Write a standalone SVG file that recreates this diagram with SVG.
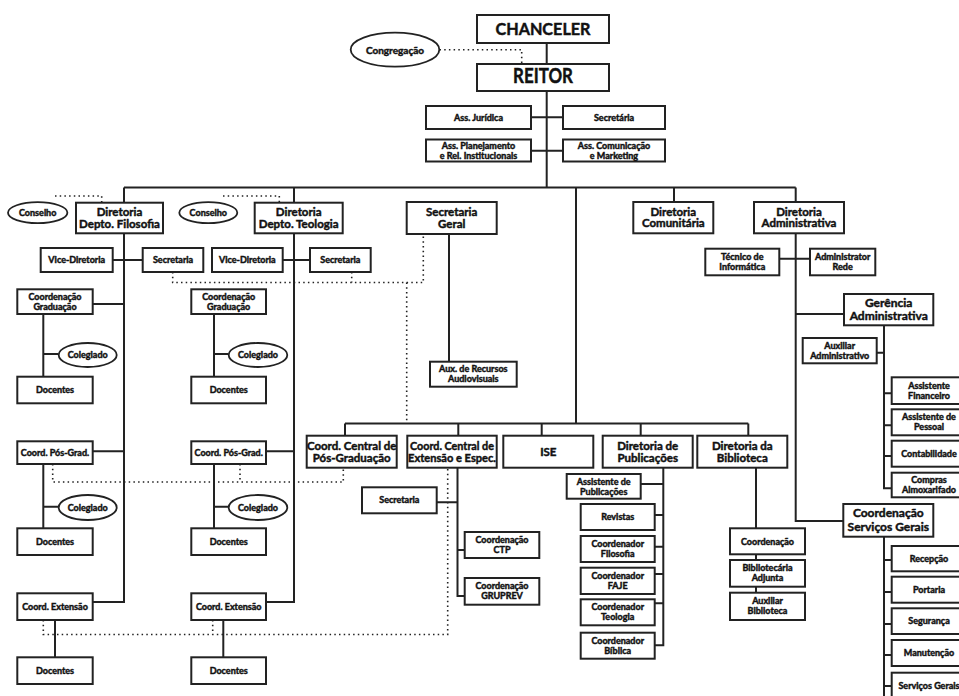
<svg xmlns="http://www.w3.org/2000/svg" width="959" height="696" viewBox="0 0 959 696">
<style>
.b{fill:#fff;stroke:#222;stroke-width:2}
.e{fill:#fff;stroke:#222;stroke-width:1.8}
.c{fill:none;stroke:#222;stroke-width:2}
.d{fill:none;stroke:#222;stroke-width:1.6;stroke-dasharray:1.5 3.2}
text{font-family:Lato,"Liberation Sans",sans-serif;font-weight:bold;fill:#111;stroke:#111;stroke-width:0.45px;text-anchor:middle}
.s9{font-size:9px}
.s10{font-size:10px}
.s11{font-size:11.5px}
.s12{font-size:12px}
</style>
<rect width="959" height="696" fill="#fff"/>
<g id="connectors">
<path class="c" d="M546.7 43V91M546.7 91V187.5M531 117.3H563M531 150.7H563"/>
<path class="c" d="M124 187.5H795.7M124 187.5V602H92.7M294 187.5V602H266M674 187.5V202M795.7 187.5V521H843.3M576 187.5V423.5"/>
<path class="c" d="M112.7 260H142.7M282.7 260H310M92.7 304H124M92.7 451.3H124M266 451.3H294"/>
<path class="c" d="M43.3 314V376.7M43.3 354H58.7M214 314V376.7M214 354H228.7M43.3 464V528.3M43.3 506.7H58.7M214 464V528.3M214 506.7H228.7M55 620V657.3M223.3 620V657.3"/>
<path class="c" d="M449 234V361.7"/>
<path class="c" d="M345 423.5H748.3M345 423.5V435.7M458.3 423.5V435.7M541.7 423.5V435.7M640.7 423.5V435.7M748.3 423.5V435.7"/>
<path class="c" d="M457.5 467.7V596H464.7M436.7 502.3H457.5M457.5 550H464.7"/>
<path class="c" d="M663.3 467.7V645.3H654.7M640.7 484H663.3M654.7 515H663.3M654.7 546.7H663.3M654.7 574H663.3M654.7 603.3H663.3"/>
<path class="c" d="M756 467.7V592.7"/>
<path class="c" d="M779.3 258.7H810M795.7 314H844"/>
<path class="c" d="M884 325.3V488.3H891.7M876.7 352.7H884M884 393.3H891.7M884 425.3H891.7M884 456H891.7"/>
<path class="c" d="M884 536.7V696M884 560H891.7M884 592H891.7M884 624H891.7M884 655H891.7M884 686H891.7"/>
<path class="d" d="M439.5 49.7H521.7V63"/>
<path class="d" d="M55 196H101.7V202.7M223 196H279.3V202.7"/>
<path class="d" d="M172.7 272V282.5H423.3V234M351.7 272V282.5M406.7 282.5V423"/>
<path class="d" d="M52.7 464V482H343.3V467.7M240 464V482"/>
<path class="d" d="M43.3 620V634.5H447.7V467.7M212.7 620V634.5"/>
</g>
<g id="chanceler"><rect class="b" x="477" y="15" width="132" height="28"/><text x="543" y="35" style="font-size:17px" textLength="95" lengthAdjust="spacingAndGlyphs">CHANCELER</text></g>
<g id="congregacao"><ellipse class="e" cx="395" cy="49.7" rx="44.3" ry="17"/><text class="s10" x="395" y="53.5">Congregação</text></g>
<g id="reitor"><rect class="b" x="477" y="64" width="132" height="27"/><text x="543" y="83.3" style="font-size:21px" textLength="60" lengthAdjust="spacingAndGlyphs">REITOR</text></g>
<g id="ass-juridica"><rect class="b" x="426" y="106" width="105" height="23"/><text class="s9" x="478.5" y="120.5">Ass. Jurídica</text></g>
<g id="secretaria-reitor"><rect class="b" x="563" y="106" width="102" height="23"/><text class="s9" x="614" y="120.5">Secretária</text></g>
<g id="ass-planejamento"><rect class="b" x="426" y="139.5" width="105" height="22"/><text class="s9" x="478.5" y="148.8"><tspan x="478.5">Ass. Planejamento</tspan><tspan x="478.5" dy="10">e Rel. Institucionais</tspan></text></g>
<g id="ass-comunicacao"><rect class="b" x="563" y="139.5" width="102" height="22"/><text class="s9" x="614" y="148.8"><tspan x="614">Ass. Comunicação</tspan><tspan x="614" dy="10">e Marketing</tspan></text></g>
<g id="conselho-fil"><ellipse class="e" cx="37.7" cy="212.7" rx="29.7" ry="10.5"/><text class="s9" x="37.7" y="216">Conselho</text></g>
<g id="dir-filosofia"><rect class="b" x="76" y="202.7" width="87" height="30.6"/><text class="s11" x="119.5" y="216"><tspan x="119.5">Diretoria</tspan><tspan x="119.5" dy="11.8">Depto. Filosofia</tspan></text></g>
<g id="conselho-teo"><ellipse class="e" cx="208.3" cy="212.7" rx="29" ry="10.5"/><text class="s9" x="208.3" y="216">Conselho</text></g>
<g id="dir-teologia"><rect class="b" x="254.7" y="202.7" width="88" height="30.6"/><text class="s11" x="298.7" y="216"><tspan x="298.7">Diretoria</tspan><tspan x="298.7" dy="11.8">Depto. Teologia</tspan></text></g>
<g id="secretaria-geral"><rect class="b" x="406.7" y="202" width="90" height="32"/><text class="s11" x="451.7" y="215.8"><tspan x="451.7">Secretaria</tspan><tspan x="451.7" dy="12">Geral</tspan></text></g>
<g id="dir-comunitaria"><rect class="b" x="633.3" y="202" width="80" height="31.3"/><text class="s11" x="673.3" y="215.6"><tspan x="673.3">Diretoria</tspan><tspan x="673.3" dy="11.8">Comunitária</tspan></text></g>
<g id="dir-administrativa"><rect class="b" x="754" y="202" width="90" height="31.3"/><text class="s11" x="799" y="215.6"><tspan x="799">Diretoria</tspan><tspan x="799" dy="11.8">Administrativa</tspan></text></g>
<g id="vice-fil"><rect class="b" x="40.7" y="248" width="72" height="24"/><text class="s9" x="76.7" y="263.2">Vice-Diretoria</text></g>
<g id="secretaria-fil"><rect class="b" x="142.7" y="248" width="60.6" height="24"/><text class="s9" x="173" y="263.2">Secretaria</text></g>
<g id="vice-teo"><rect class="b" x="212" y="248" width="70.7" height="24"/><text class="s9" x="247.3" y="263.2">Vice-Diretoria</text></g>
<g id="secretaria-teo"><rect class="b" x="310" y="248" width="60.7" height="24"/><text class="s9" x="340.3" y="263.2">Secretaria</text></g>
<g id="tecnico-info"><rect class="b" x="705.3" y="248.7" width="74" height="26.6"/><text class="s9" x="742.3" y="260.2"><tspan x="742.3">Técnico de</tspan><tspan x="742.3" dy="10">Informática</tspan></text></g>
<g id="admin-rede"><rect class="b" x="810" y="248.7" width="65.3" height="26.6"/><text class="s9" x="842.7" y="260.2"><tspan x="842.7">Administrator</tspan><tspan x="842.7" dy="10">Rede</tspan></text></g>
<g id="gerencia-adm"><rect class="b" x="844" y="294" width="89.3" height="31.3"/><text class="s12" x="888.7" y="306.8"><tspan x="888.7">Gerência</tspan><tspan x="888.7" dy="13.6">Administrativa</tspan></text></g>
<g id="aux-adm"><rect class="b" x="802.7" y="338" width="74" height="25.3"/><text class="s9" x="839.7" y="349"><tspan x="839.7">Auxiliar</tspan><tspan x="839.7" dy="10">Administrativo</tspan></text></g>
<g id="coord-grad-fil"><rect class="b" x="17.3" y="289.3" width="75.4" height="24.7"/><text class="s9" x="55" y="300"><tspan x="55">Coordenação</tspan><tspan x="55" dy="10">Graduação</tspan></text></g>
<g id="coord-grad-teo"><rect class="b" x="191.3" y="289.3" width="74.7" height="24.7"/><text class="s9" x="228.7" y="300"><tspan x="228.7">Coordenação</tspan><tspan x="228.7" dy="10">Graduação</tspan></text></g>
<g id="colegiado-1"><ellipse class="e" cx="87.7" cy="355" rx="29" ry="12"/><text class="s9" x="87.7" y="358.3">Colegiado</text></g>
<g id="colegiado-2"><ellipse class="e" cx="258" cy="355" rx="29.3" ry="12"/><text class="s9" x="258" y="358.3">Colegiado</text></g>
<g id="docentes-1"><rect class="b" x="17.3" y="376.7" width="75.4" height="26.6"/><text class="s9" x="55" y="393.2">Docentes</text></g>
<g id="docentes-2"><rect class="b" x="191.3" y="376.7" width="74.7" height="26.6"/><text class="s9" x="228.7" y="393.2">Docentes</text></g>
<g id="aux-recursos"><rect class="b" x="430" y="361.7" width="86.7" height="25"/><text class="s9" x="473.3" y="372.2"><tspan x="473.3">Aux. de Recursos</tspan><tspan x="473.3" dy="10">Audiovisuais</tspan></text></g>
<g id="coord-pos-fil"><rect class="b" x="17.3" y="441.3" width="75.4" height="22.7"/><text class="s9" x="55" y="455.8">Coord. Pós-Grad.</text></g>
<g id="coord-pos-teo"><rect class="b" x="191.3" y="441.3" width="74.7" height="22.7"/><text class="s9" x="228.7" y="455.8">Coord. Pós-Grad.</text></g>
<g id="colegiado-3"><ellipse class="e" cx="87.7" cy="507.5" rx="29" ry="12.5"/><text class="s9" x="87.7" y="510.8">Colegiado</text></g>
<g id="colegiado-4"><ellipse class="e" cx="258" cy="507.5" rx="29.3" ry="12.5"/><text class="s9" x="258" y="510.8">Colegiado</text></g>
<g id="docentes-3"><rect class="b" x="17.3" y="528.3" width="75.4" height="26.7"/><text class="s9" x="55" y="544.8">Docentes</text></g>
<g id="docentes-4"><rect class="b" x="191.3" y="528.3" width="74.7" height="26.7"/><text class="s9" x="228.7" y="544.8">Docentes</text></g>
<g id="coord-ext-fil"><rect class="b" x="17.3" y="593.3" width="75.4" height="26.7"/><text class="s9" x="55" y="609.8">Coord. Extensão</text></g>
<g id="coord-ext-teo"><rect class="b" x="191.3" y="593.3" width="74.7" height="26.7"/><text class="s9" x="228.7" y="609.8">Coord. Extensão</text></g>
<g id="docentes-5"><rect class="b" x="17.3" y="657.3" width="75.4" height="26.7"/><text class="s9" x="55" y="673.8">Docentes</text></g>
<g id="docentes-6"><rect class="b" x="191.3" y="657.3" width="74.7" height="26.7"/><text class="s9" x="228.7" y="673.8">Docentes</text></g>
<g id="coord-central-pos"><rect class="b" x="306.7" y="435.7" width="90" height="32"/><text class="s11" x="351.7" y="449.6"><tspan x="351.7">Coord. Central de</tspan><tspan x="351.7" dy="12">Pós-Graduação</tspan></text></g>
<g id="coord-central-ext"><rect class="b" x="407.3" y="435.7" width="89.4" height="32"/><text class="s11" x="452" y="449.6"><tspan x="452" textLength="84" lengthAdjust="spacingAndGlyphs">Coord. Central de</tspan><tspan x="452" dy="12" textLength="88" lengthAdjust="spacingAndGlyphs">Extensão e Espec.</tspan></text></g>
<g id="ise"><rect class="b" x="503.3" y="435.7" width="90" height="32"/><text class="s11" x="548.3" y="455.8">ISE</text></g>
<g id="dir-publicacoes"><rect class="b" x="602.7" y="435.7" width="90" height="32"/><text class="s11" x="647.7" y="449.6"><tspan x="647.7">Diretoria de</tspan><tspan x="647.7" dy="12">Publicações</tspan></text></g>
<g id="dir-biblioteca"><rect class="b" x="697.3" y="435.7" width="90" height="32"/><text class="s11" x="742.3" y="449.6"><tspan x="742.3">Diretoria da</tspan><tspan x="742.3" dy="12">Biblioteca</tspan></text></g>
<g id="secretaria-ext"><rect class="b" x="362" y="487.3" width="74.7" height="26"/><text class="s9" x="399.3" y="503.4">Secretaria</text></g>
<g id="coord-ctp"><rect class="b" x="464.7" y="532" width="74.6" height="26"/><text class="s9" x="502" y="543"><tspan x="502">Coordenação</tspan><tspan x="502" dy="10">CTP</tspan></text></g>
<g id="coord-gruprev"><rect class="b" x="464.7" y="578" width="74.6" height="26.7"/><text class="s9" x="502" y="589.2"><tspan x="502">Coordenação</tspan><tspan x="502" dy="10">GRUPREV</tspan></text></g>
<g id="assist-pub"><rect class="b" x="566.7" y="474" width="74" height="24.7"/><text class="s9" x="603.7" y="484.7"><tspan x="603.7">Assistente de</tspan><tspan x="603.7" dy="10">Publicações</tspan></text></g>
<g id="revistas"><rect class="b" x="580.7" y="504" width="74" height="26"/><text class="s9" x="617.7" y="520">Revistas</text></g>
<g id="coord-filosofia"><rect class="b" x="580.7" y="536" width="74" height="26"/><text class="s9" x="617.7" y="547"><tspan x="617.7">Coordenador</tspan><tspan x="617.7" dy="10">Filosofia</tspan></text></g>
<g id="coord-faje"><rect class="b" x="580.7" y="567.7" width="74" height="26.3"/><text class="s9" x="617.7" y="578.9"><tspan x="617.7">Coordenador</tspan><tspan x="617.7" dy="10">FAJE</tspan></text></g>
<g id="coord-teologia"><rect class="b" x="580.7" y="599.3" width="74" height="26"/><text class="s9" x="617.7" y="610.3"><tspan x="617.7">Coordenador</tspan><tspan x="617.7" dy="10">Teologia</tspan></text></g>
<g id="coord-biblica"><rect class="b" x="580.7" y="632.7" width="74" height="26"/><text class="s9" x="617.7" y="643.7"><tspan x="617.7">Coordenador</tspan><tspan x="617.7" dy="10">Bíblica</tspan></text></g>
<g id="coord-bib"><rect class="b" x="730" y="528.3" width="75" height="26"/><text class="s9" x="767.5" y="544.5">Coordenação</text></g>
<g id="bibliotecaria"><rect class="b" x="730" y="560" width="75" height="26.7"/><text class="s9" x="767.5" y="571.2"><tspan x="767.5">Bibliotecária</tspan><tspan x="767.5" dy="10">Adjunta</tspan></text></g>
<g id="aux-biblioteca"><rect class="b" x="730" y="592.7" width="75" height="27.3"/><text class="s9" x="767.5" y="604.2"><tspan x="767.5">Auxiliar</tspan><tspan x="767.5" dy="10">Biblioteca</tspan></text></g>
<g id="coord-servicos"><rect class="b" x="843.3" y="504" width="90" height="32.7"/><text class="s12" x="888.3" y="517"><tspan x="888.3">Coordenação</tspan><tspan x="888.3" dy="13.6">Serviços Gerais</tspan></text></g>
<g id="assist-fin"><rect class="b" x="891.7" y="377.3" width="72" height="26.7"/><text class="s9" x="929" y="388.5"><tspan x="929">Assistente</tspan><tspan x="929" dy="10">Financeiro</tspan></text></g>
<g id="assist-pessoal"><rect class="b" x="891.7" y="409.3" width="72" height="26"/><text class="s9" x="929" y="420.3"><tspan x="929">Assistente de</tspan><tspan x="929" dy="10">Pessoal</tspan></text></g>
<g id="contabilidade"><rect class="b" x="891.7" y="440.7" width="72" height="26"/><text class="s9" x="929" y="456.8">Contabilidade</text></g>
<g id="compras"><rect class="b" x="891.7" y="472.7" width="72" height="24.6"/><text class="s9" x="929" y="483.2"><tspan x="929">Compras</tspan><tspan x="929" dy="10">Almoxarifado</tspan></text></g>
<g id="recepcao"><rect class="b" x="891.7" y="546" width="72" height="25.3"/><text class="s9" x="929" y="561.8">Recepção</text></g>
<g id="portaria"><rect class="b" x="891.7" y="576.7" width="72" height="26"/><text class="s9" x="929" y="592.8">Portaria</text></g>
<g id="seguranca"><rect class="b" x="891.7" y="608.3" width="72" height="25.7"/><text class="s9" x="929" y="624.3">Segurança</text></g>
<g id="manutencao"><rect class="b" x="891.7" y="640" width="72" height="26"/><text class="s9" x="929" y="656.1">Manutenção</text></g>
<g id="servicos-gerais"><rect class="b" x="891.7" y="672.7" width="72" height="30"/><text class="s9" x="929" y="688.8">Serviços Gerais</text></g>
</svg>
